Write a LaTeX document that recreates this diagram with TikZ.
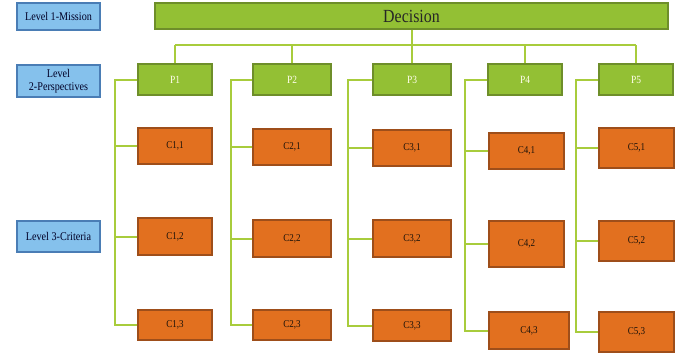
\documentclass[tikz,border=0pt]{standalone}
\usepackage{fontspec}
\setmainfont{Liberation Serif}
\newfontfamily\condfont[FakeStretch=0.86]{Liberation Serif}
\definecolor{linegreen}{HTML}{A8CC3C}
\definecolor{boxgreen}{HTML}{93C034}
\definecolor{boxgreenD}{HTML}{6E8E2A}
\definecolor{boxorange}{HTML}{E2701F}
\definecolor{boxorangeD}{HTML}{9E4E1A}
\definecolor{boxblue}{HTML}{85C1EC}
\definecolor{boxblueD}{HTML}{4A7DB5}
\begin{document}
\begin{tikzpicture}[x=1pt,y=-1pt,
  lvl/.style={draw=boxblueD,fill=boxblue,line width=1.3pt,minimum width=83pt,inner sep=1pt,align=center,font=\condfont\fontsize{11.8}{12.5}\selectfont,text=black!85!blue},
  dec/.style={draw=boxgreenD,fill=boxgreen,line width=1.3pt,minimum width=513pt,minimum height=26pt,inner sep=0pt,font=\condfont\fontsize{18.5}{20}\selectfont,text=black!85},
  pbox/.style={draw=boxgreenD,fill=boxgreen,line width=1.3pt,minimum height=31pt,inner sep=0pt,font=\condfont\fontsize{11}{12}\selectfont,text=white!92!yellow},
  cbox/.style={draw=boxorangeD,fill=boxorange,line width=1.3pt,inner sep=0pt,font=\condfont\fontsize{10.5}{12}\selectfont,text=black!85!brown},
  conn/.style={draw=linegreen,line width=2pt}]
\useasboundingbox (0,0) rectangle (684,354);
% level labels
\node[lvl,minimum height=27pt] (L1) at (58.5,16.5) {Level 1-Mission};
\node[lvl,minimum height=32pt] (L2) at (58.5,81) {Level\\2-Perspectives};
\node[lvl,minimum height=31pt] (L3) at (58.5,236.5) {Level 3-Criteria};
% decision
\node[dec] (D) at (411.5,16) {Decision};
% perspectives
\node[pbox,minimum width=74pt] (P1) at (175,79.5) {P1};
\node[pbox,minimum width=78pt] (P2) at (292,79.5) {P2};
\node[pbox,minimum width=78pt] (P3) at (412,79.5) {P3};
\node[pbox,minimum width=74pt] (P4) at (525,79.5) {P4};
\node[pbox,minimum width=74pt] (P5) at (636,79.5) {P5};
% criteria
\node[cbox,minimum width=74pt,minimum height=36pt] (C11) at (175,146) {C1,1};
\node[cbox,minimum width=74pt,minimum height=37pt] (C12) at (175,236.5) {C1,2};
\node[cbox,minimum width=74pt,minimum height=30pt] (C13) at (175,325) {C1,3};
\node[cbox,minimum width=78pt,minimum height=36pt] (C21) at (292,147) {C2,1};
\node[cbox,minimum width=78pt,minimum height=37pt] (C22) at (292,238.5) {C2,2};
\node[cbox,minimum width=78pt,minimum height=30pt] (C23) at (292,325) {C2,3};
\node[cbox,minimum width=78pt,minimum height=36pt] (C31) at (412,148) {C3,1};
\node[cbox,minimum width=78pt,minimum height=37pt] (C32) at (412,238.5) {C3,2};
\node[cbox,minimum width=78pt,minimum height=31pt] (C33) at (412,325.5) {C3,3};
\node[cbox,minimum width=75pt,minimum height=36pt] (C41) at (526.5,151) {C4,1};
\node[cbox,minimum width=75pt,minimum height=46pt] (C42) at (526.5,244) {C4,2};
\node[cbox,minimum width=80pt,minimum height=37pt] (C43) at (529,330.5) {C4,3};
\node[cbox,minimum width=75pt,minimum height=40pt] (C51) at (636.5,148) {C5,1};
\node[cbox,minimum width=75pt,minimum height=40pt] (C52) at (636.5,241) {C5,2};
\node[cbox,minimum width=75pt,minimum height=40pt] (C53) at (636.5,332) {C5,3};
% bus
\coordinate (busL) at (175,45);
\coordinate (busR) at (636,45);
\draw[conn] (busL) -- (busR);
\draw[conn] (D.south) -- (D.south |- busL);
\foreach \p in {P1,P2,P3,P4,P5}{
  \draw[conn] (\p.north) -- (\p.north |- busL);
}
% rails
\coordinate (r1) at (115,0);
\coordinate (r2) at (231,0);
\coordinate (r3) at (348,0);
\coordinate (r4) at (465,0);
\coordinate (r5) at (576,0);
\foreach \i in {1,...,5}{
  \draw[conn] (P\i.west) -| (r\i |- C\i3.west) -- (C\i3.west);
  \draw[conn] (C\i1.west) -- (r\i |- C\i1.west);
  \draw[conn] (C\i2.west) -- (r\i |- C\i2.west);
}
\end{tikzpicture}
\end{document}
